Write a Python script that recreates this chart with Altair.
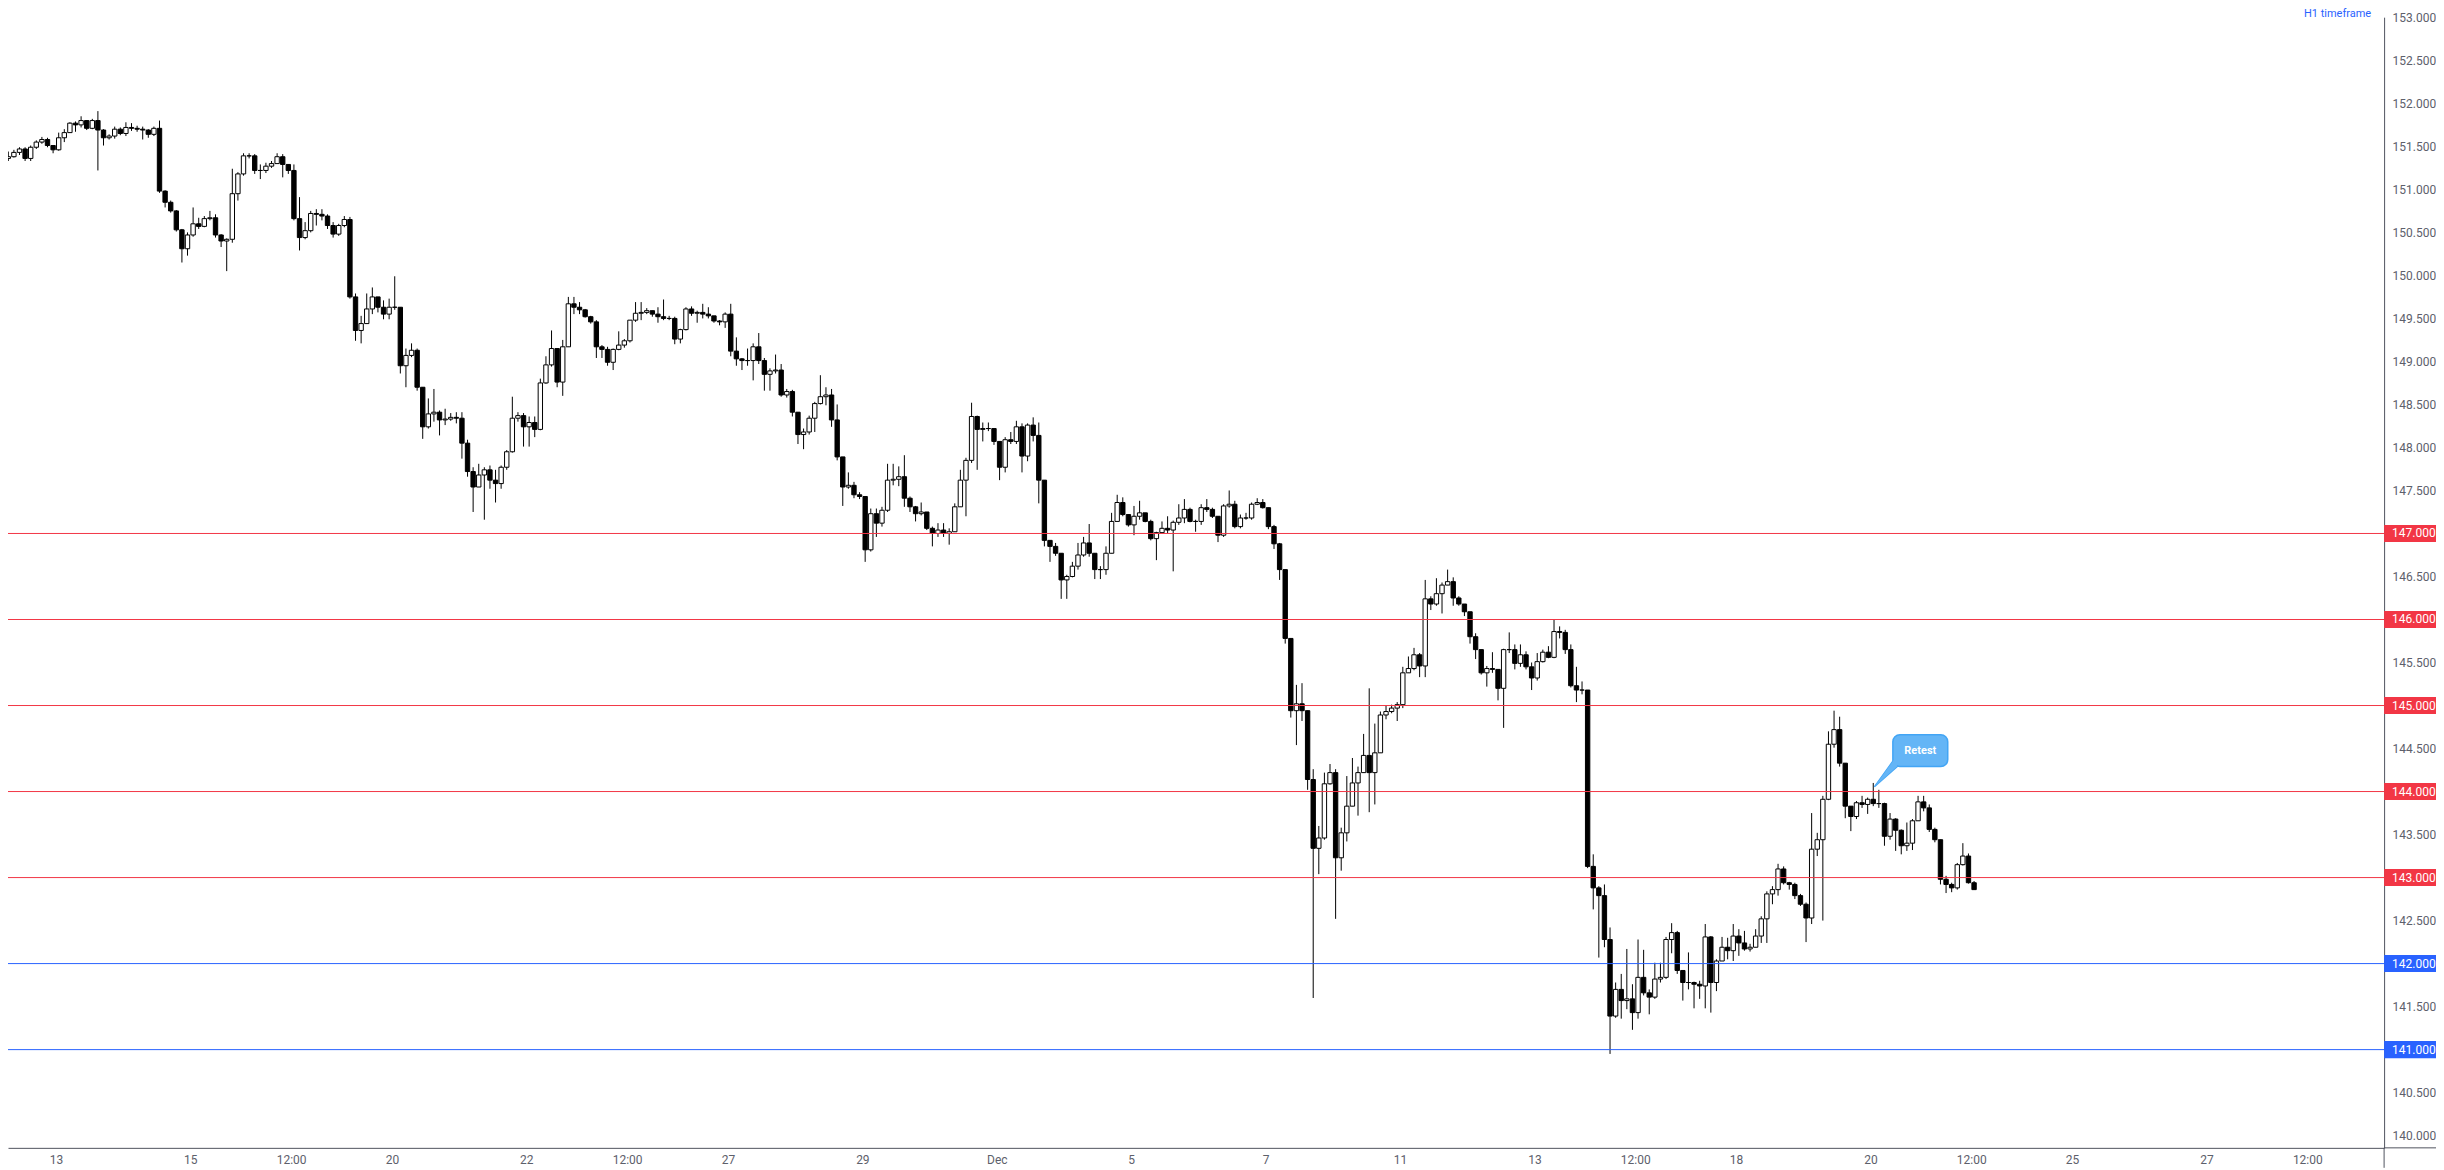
import altair as alt
import pandas as pd

# ---------------- data ----------------
# 2-hour candles; t = trading hours since Mon 13 Nov 00:00 (weekends removed)
T_START = -20
BAR_HOURS = 2
FIRST_OPEN = 151.29

CLOSE = [
    151.36, 151.38, 151.43, 151.47, 151.36, 151.49, 151.55, 151.58, 151.51, 151.46,
    151.60, 151.66, 151.77, 151.75, 151.80, 151.71, 151.80, 151.69, 151.60, 151.62,
    151.70, 151.65, 151.72, 151.71, 151.70, 151.69, 151.64, 151.71, 150.98, 150.85,
    150.75, 150.53, 150.31, 150.47, 150.60, 150.57, 150.66, 150.67, 150.47, 150.40,
    150.42, 150.95, 151.18, 151.39, 151.39, 151.22, 151.22, 151.27, 151.30, 151.38,
    151.29, 151.22, 150.66, 150.44, 150.52, 150.72, 150.71, 150.69, 150.58, 150.48,
    150.58, 150.65, 149.75, 149.36, 149.44, 149.61, 149.75, 149.63, 149.55, 149.63,
    149.63, 148.95, 149.07, 149.13, 148.70, 148.24, 148.39, 148.41, 148.32, 148.33,
    148.35, 148.34, 148.05, 147.72, 147.54, 147.68, 147.74, 147.62, 147.58, 147.77,
    147.95, 148.34, 148.37, 148.24, 148.29, 148.21, 148.75, 148.96, 149.15, 148.76,
    149.17, 149.67, 149.63, 149.60, 149.52, 149.46, 149.17, 149.14, 148.99, 149.14,
    149.19, 149.24, 149.48, 149.56, 149.57, 149.59, 149.55, 149.52, 149.50, 149.50,
    149.26, 149.37, 149.61, 149.56, 149.57, 149.55, 149.53, 149.47, 149.46, 149.55,
    149.12, 149.03, 149.01, 149.01, 149.17, 149.01, 148.85, 148.89, 148.90, 148.61,
    148.65, 148.41, 148.15, 148.18, 148.34, 148.51, 148.59, 148.61, 148.32, 147.89,
    147.54, 147.56, 147.45, 147.43, 146.81, 147.23, 147.12, 147.27, 147.62, 147.63,
    147.66, 147.41, 147.31, 147.23, 147.25, 147.06, 147.00, 147.04, 147.00, 147.02,
    147.31, 147.62, 147.85, 148.36, 148.21, 148.22, 148.22, 148.07, 147.77, 148.09,
    148.07, 148.24, 147.90, 148.26, 148.14, 147.62, 146.92, 146.85, 146.77, 146.46,
    146.50, 146.62, 146.75, 146.89, 146.77, 146.58, 146.58, 146.77, 147.14, 147.36,
    147.22, 147.10, 147.20, 147.24, 147.14, 146.94, 147.01, 147.06, 147.04, 147.13,
    147.18, 147.28, 147.14, 147.14, 147.30, 147.28, 147.20, 146.98, 147.32, 147.34,
    147.08, 147.18, 147.18, 147.34, 147.36, 147.30, 147.08, 146.88, 146.58, 145.78,
    144.94, 145.02, 144.94, 144.14, 143.34, 143.46, 144.09, 144.22, 143.23, 143.52,
    143.83, 144.10, 144.22, 144.42, 144.22, 144.45, 144.89, 144.93, 144.97, 145.01,
    145.38, 145.43, 145.59, 145.46, 146.24, 146.18, 146.30, 146.40, 146.44, 146.25,
    146.18, 146.09, 145.80, 145.65, 145.38, 145.43, 145.42, 145.20, 145.65, 145.65,
    145.49, 145.59, 145.45, 145.32, 145.51, 145.62, 145.56, 145.86, 145.85, 145.65,
    145.23, 145.18, 145.18, 143.13, 142.88, 142.79, 142.28, 141.39, 141.70, 141.57,
    141.59, 141.43, 141.84, 141.66, 141.61, 141.82, 141.84, 142.28, 142.36, 141.92,
    141.78, 141.78, 141.76, 141.74, 142.31, 141.78, 142.03, 142.19, 142.15, 142.32,
    142.24, 142.17, 142.19, 142.32, 142.52, 142.81, 142.86, 143.10, 142.94, 142.92,
    142.79, 142.69, 142.53, 143.33, 143.44, 143.91, 144.55, 144.72, 144.33, 143.83,
    143.71, 143.87, 143.85, 143.91, 143.86, 143.86, 143.48, 143.68, 143.55, 143.37,
    143.40, 143.66, 143.88, 143.81, 143.56, 143.44, 142.98, 142.92, 142.88, 143.15,
    143.25, 142.94, 142.86,
]
HIGH = [
    151.39, 151.44, 151.46, 151.49, 151.49, 151.51, 151.57, 151.61, 151.60, 151.51,
    151.66, 151.70, 151.78, 151.79, 151.85, 151.80, 151.82, 151.91, 151.70, 151.64,
    151.73, 151.72, 151.78, 151.77, 151.74, 151.73, 151.70, 151.73, 151.80, 150.99,
    150.87, 150.76, 150.54, 150.50, 150.79, 150.67, 150.69, 150.75, 150.71, 150.48,
    150.43, 151.24, 151.20, 151.42, 151.42, 151.41, 151.29, 151.31, 151.33, 151.42,
    151.41, 151.27, 151.29, 150.91, 150.62, 150.75, 150.77, 150.77, 150.71, 150.62,
    150.60, 150.69, 150.68, 149.79, 149.53, 149.79, 149.86, 149.71, 149.71, 149.73,
    149.99, 149.63, 149.15, 149.21, 149.15, 148.68, 148.57, 148.68, 148.43, 148.45,
    148.40, 148.41, 148.41, 148.09, 147.77, 147.81, 147.77, 147.79, 147.74, 147.79,
    147.97, 148.59, 148.41, 148.40, 148.36, 148.36, 148.80, 149.06, 149.36, 149.11,
    149.25, 149.75, 149.75, 149.69, 149.61, 149.53, 149.48, 149.19, 149.17, 149.15,
    149.35, 149.26, 149.48, 149.69, 149.69, 149.62, 149.58, 149.63, 149.72, 149.53,
    149.52, 149.38, 149.63, 149.64, 149.59, 149.67, 149.63, 149.52, 149.48, 149.57,
    149.67, 149.28, 149.04, 149.15, 149.21, 149.33, 149.04, 148.92, 149.08, 148.97,
    148.68, 148.67, 148.41, 148.22, 148.37, 148.53, 148.84, 148.70, 148.68, 148.50,
    147.87, 147.71, 147.60, 147.48, 147.43, 147.29, 147.29, 147.31, 147.81, 147.81,
    147.78, 147.91, 147.43, 147.32, 147.36, 147.25, 147.08, 147.12, 147.12, 147.06,
    147.35, 147.74, 147.88, 148.52, 148.37, 148.29, 148.29, 148.22, 148.03, 148.12,
    148.18, 148.31, 148.28, 148.28, 148.35, 148.29, 147.62, 146.89, 146.89, 146.77,
    146.52, 146.67, 146.89, 146.96, 147.11, 146.77, 146.62, 146.85, 147.24, 147.45,
    147.42, 147.22, 147.32, 147.38, 147.20, 147.16, 147.02, 147.14, 147.20, 147.15,
    147.34, 147.40, 147.30, 147.16, 147.34, 147.40, 147.30, 147.18, 147.34, 147.50,
    147.38, 147.22, 147.24, 147.36, 147.41, 147.40, 147.30, 147.10, 146.89, 146.54,
    145.72, 145.24, 145.26, 144.86, 144.26, 143.60, 144.22, 144.32, 144.26, 143.58,
    144.18, 144.39, 144.29, 144.67, 145.20, 144.79, 144.93, 145.00, 145.01, 145.04,
    145.45, 145.57, 145.67, 145.61, 146.46, 146.27, 146.48, 146.43, 146.58, 146.49,
    146.27, 146.18, 146.07, 145.84, 145.63, 145.46, 145.62, 145.42, 145.66, 145.85,
    145.71, 145.71, 145.63, 145.50, 145.61, 145.65, 145.69, 146.00, 145.92, 145.88,
    145.71, 145.45, 145.28, 145.18, 143.27, 142.90, 142.92, 142.42, 141.78, 141.88,
    142.17, 141.76, 142.28, 142.16, 141.70, 142.01, 142.01, 142.31, 142.47, 142.38,
    141.90, 142.13, 141.79, 141.80, 142.46, 142.32, 142.05, 142.31, 142.30, 142.46,
    142.40, 142.38, 142.23, 142.40, 142.55, 142.84, 142.90, 143.16, 143.13, 142.95,
    142.94, 142.81, 142.71, 143.75, 143.52, 143.95, 144.70, 144.94, 144.87, 144.31,
    143.83, 143.89, 143.95, 143.93, 144.10, 144.02, 143.87, 143.75, 143.69, 143.56,
    143.64, 143.68, 143.95, 143.95, 143.85, 143.58, 143.44, 143.02, 142.94, 143.17,
    143.40, 143.28, 142.96,
]
LOW = [
    151.25, 151.33, 151.37, 151.40, 151.33, 151.33, 151.47, 151.53, 151.49, 151.42,
    151.45, 151.55, 151.66, 151.67, 151.72, 151.69, 151.70, 151.22, 151.51, 151.58,
    151.59, 151.63, 151.62, 151.68, 151.67, 151.58, 151.60, 151.62, 150.96, 150.79,
    150.73, 150.51, 150.15, 150.23, 150.45, 150.54, 150.56, 150.64, 150.44, 150.33,
    150.05, 150.38, 150.87, 151.16, 151.36, 151.18, 151.12, 151.19, 151.25, 151.30,
    151.14, 151.18, 150.64, 150.29, 150.42, 150.50, 150.58, 150.64, 150.54, 150.44,
    150.46, 150.56, 149.73, 149.24, 149.21, 149.57, 149.55, 149.57, 149.49, 149.49,
    149.60, 148.86, 148.70, 149.05, 148.66, 148.10, 148.22, 148.30, 148.14, 148.26,
    148.31, 148.28, 147.87, 147.66, 147.25, 147.54, 147.16, 147.52, 147.36, 147.52,
    147.74, 147.94, 148.30, 148.01, 148.01, 148.12, 148.20, 148.74, 148.94, 148.70,
    148.60, 149.17, 149.55, 149.55, 149.51, 149.44, 149.04, 149.04, 148.95, 148.90,
    149.13, 149.16, 149.22, 149.46, 149.48, 149.55, 149.52, 149.45, 149.48, 149.48,
    149.20, 149.21, 149.36, 149.53, 149.45, 149.50, 149.50, 149.45, 149.42, 149.39,
    149.06, 148.95, 148.90, 148.95, 148.78, 148.97, 148.66, 148.66, 148.86, 148.59,
    148.58, 148.36, 148.04, 147.98, 148.15, 148.18, 148.50, 148.49, 148.24, 147.85,
    147.32, 147.52, 147.41, 147.40, 146.67, 146.79, 146.96, 147.08, 147.25, 147.56,
    147.55, 147.31, 147.25, 147.14, 147.21, 147.04, 146.85, 146.96, 146.96, 146.87,
    147.04, 147.39, 147.20, 147.82, 147.74, 148.07, 148.19, 148.03, 147.62, 147.71,
    148.04, 148.04, 147.71, 147.84, 148.07, 147.35, 146.85, 146.67, 146.74, 146.24,
    146.24, 146.49, 146.58, 146.73, 146.73, 146.47, 146.47, 146.52, 146.77, 147.14,
    147.20, 147.08, 146.98, 147.16, 147.13, 146.92, 146.69, 147.01, 147.00, 146.56,
    147.10, 147.12, 147.13, 147.02, 147.10, 147.25, 147.18, 146.90, 146.96, 147.30,
    147.06, 147.06, 147.16, 147.16, 147.33, 147.29, 147.05, 146.82, 146.46, 145.72,
    144.86, 144.54, 144.82, 144.02, 141.60, 143.04, 143.44, 144.08, 142.52, 143.08,
    143.42, 143.91, 143.72, 144.26, 143.76, 143.85, 144.49, 144.84, 144.91, 144.82,
    144.97, 145.41, 145.41, 145.33, 145.33, 146.11, 146.16, 146.07, 146.40, 146.16,
    146.16, 146.04, 145.72, 145.54, 145.36, 145.22, 145.38, 145.06, 144.74, 145.61,
    145.42, 145.45, 145.42, 145.18, 145.29, 145.50, 145.55, 145.55, 145.78, 145.60,
    145.21, 145.04, 145.13, 143.11, 142.63, 142.07, 142.19, 140.95, 141.37, 141.36,
    141.47, 141.23, 141.36, 141.63, 141.41, 141.59, 141.78, 141.82, 142.12, 141.88,
    141.57, 141.70, 141.48, 141.59, 141.48, 141.43, 141.68, 142.03, 142.05, 142.03,
    142.09, 142.15, 142.14, 142.19, 142.24, 142.24, 142.69, 142.79, 142.92, 142.86,
    142.75, 142.67, 142.25, 142.46, 143.25, 142.50, 143.90, 144.51, 144.29, 143.69,
    143.54, 143.68, 143.81, 143.74, 143.83, 143.81, 143.37, 143.44, 143.31, 143.27,
    143.31, 143.32, 143.66, 143.77, 143.53, 143.41, 142.92, 142.82, 142.83, 142.86,
    143.14, 142.93, 142.86,
]

# time-axis ticks (trading hours) and their labels
TICK_T = [0, 48, 84, 120, 168, 204, 240, 288, 336, 384, 432, 480, 528, 564, 600,
          648, 684, 720, 768, 804]
TICK_LABELS = ["13", "15", "12:00", "20", "22", "12:00", "27", "29", "Dec", "5",
               "7", "11", "13", "12:00", "18", "20", "12:00", "25", "27", "12:00"]

# plain grey price labels (the marked levels get coloured boxes instead)
Y_LABEL_VALUES = [140.0, 140.5, 141.5, 142.5, 143.5, 144.5, 145.5, 146.5, 147.5,
                  148.0, 148.5, 149.0, 149.5, 150.0, 150.5, 151.0, 151.5, 152.0,
                  152.5, 153.0]

LEVELS = [147, 146, 145, 144, 143, 142, 141]
LEVEL_COLORS = ["#f23645", "#f23645", "#f23645", "#f23645", "#f23645",
                "#2962ff", "#2962ff"]

CALLOUT_TEXT = "Retest"
CALLOUT_BOX_T = [656.0, 675.6]
CALLOUT_BOX_P = [144.29, 144.66]
CALLOUT_TAIL_T = [649.4, 657.5]
CALLOUT_TAIL_TOP = [144.055, 144.42]
CALLOUT_TAIL_BOT = [144.055, 144.29]

TIMEFRAME_TEXT = "H1 timeframe"

# ---------------- layout / style ----------------
W, H = 2381, 1133
X_DOMAIN = [-17.106, 831.43]
Y_DOMAIN = [139.858, 153.002]
AXIS_LINE = "#50535e"
LABEL_COLOR = "#5d606b"
FONT = "Roboto"
BUBBLE_FILL = "#64b5f6"
BUBBLE_STROKE = "#42a5f5"

# ---------------- tables ----------------
n = len(CLOSE)
candles = pd.DataFrame({
    "t": [T_START + BAR_HOURS * i for i in range(n)],
    "open": [FIRST_OPEN] + CLOSE[:-1],
    "close": CLOSE,
    "high": HIGH,
    "low": LOW,
})
candles["mid"] = candles["t"] + BAR_HOURS / 2
candles["b0"] = candles["t"] + 0.22
candles["b1"] = candles["t"] + 1.78
candles["hi"] = candles[["high", "open", "close"]].max(axis=1)
candles["lo"] = candles[["low", "open", "close"]].min(axis=1)

levels = pd.DataFrame({"level": LEVELS, "color": LEVEL_COLORS})
levels["label"] = [f"{v:.3f}" for v in LEVELS]
levels["top"] = levels["level"] + 0.099
levels["bot"] = levels["level"] - 0.099

bubble_df = pd.DataFrame({
    "t1": [CALLOUT_BOX_T[0]], "t2": [CALLOUT_BOX_T[1]],
    "p1": [CALLOUT_BOX_P[0]], "p2": [CALLOUT_BOX_P[1]],
    "tc": [sum(CALLOUT_BOX_T) / 2], "pc": [sum(CALLOUT_BOX_P) / 2],
    "text": [CALLOUT_TEXT],
})
tail_df = pd.DataFrame({"t": CALLOUT_TAIL_T, "top": CALLOUT_TAIL_TOP,
                        "bot": CALLOUT_TAIL_BOT})
one = pd.DataFrame({"text": [TIMEFRAME_TEXT]})

xs = alt.Scale(domain=X_DOMAIN, nice=False, zero=False)
ys = alt.Scale(domain=Y_DOMAIN, nice=False, zero=False)

label_expr = ("[" + ",".join(f"'{s}'" for s in TICK_LABELS) + "][indexof(["
              + ",".join(str(v) for v in TICK_T) + "], datum.value)]")

xaxis = alt.Axis(values=TICK_T, labelExpr=label_expr, title=None, grid=False,
                 ticks=False, domainColor=AXIS_LINE, domainWidth=1,
                 labelColor=LABEL_COLOR, labelFont=FONT, labelFontSize=12,
                 labelPadding=7, labelOverlap=False, labelFlush=False)
yaxis = alt.Axis(orient="right", values=Y_LABEL_VALUES, format=".3f", title=None,
                 grid=False, ticks=False, domainColor=AXIS_LINE, domainWidth=1,
                 labelColor=LABEL_COLOR, labelFont=FONT, labelFontSize=12,
                 labelPadding=8, labelAlign="left", labelBaseline="middle",
                 labelOverlap=False, labelFlush=False)


def X(field):
    return alt.X(field, scale=xs, axis=xaxis)


def Y(field):
    return alt.Y(field, scale=ys, axis=yaxis)


base = alt.Chart(candles)
wicks = base.mark_rule(color="black", strokeWidth=1, clip=True).encode(
    x=X("mid:Q"), y=Y("lo:Q"), y2="hi",
)
bodies = base.mark_rect(stroke="black", strokeWidth=1, clip=True).encode(
    x=X("b0:Q"), x2="b1",
    y=Y("open:Q"), y2="close",
    fill=alt.condition("datum.close >= datum.open", alt.value("white"),
                       alt.value("black")),
)

level_rules = alt.Chart(levels).mark_rule(strokeWidth=1).encode(
    y=Y("level:Q"),
    color=alt.Color("color:N", scale=None),
)
level_boxes = alt.Chart(levels).mark_rect().encode(
    x=alt.value(W), x2=alt.value(W + 52),
    y=Y("top:Q"), y2="bot",
    color=alt.Color("color:N", scale=None),
)
level_text = alt.Chart(levels).mark_text(
    align="left", baseline="middle", font=FONT, fontSize=12, color="white"
).encode(
    x=alt.value(W + 8), y=Y("level:Q"), text="label:N"
)

tail = alt.Chart(tail_df).mark_area(
    fill=BUBBLE_FILL, stroke=BUBBLE_STROKE, strokeWidth=1.5
).encode(x=X("t:Q"), y=Y("top:Q"), y2="bot")
bubble = alt.Chart(bubble_df).mark_rect(
    cornerRadius=7, fill=BUBBLE_FILL, stroke=BUBBLE_STROKE, strokeWidth=1.5
).encode(x=X("t1:Q"), x2="t2", y=Y("p1:Q"), y2="p2")
tail_cover = alt.Chart(tail_df).mark_area(fill=BUBBLE_FILL, strokeWidth=0).encode(
    x=X("t:Q"), y=Y("top:Q"), y2="bot"
)
bubble_text = alt.Chart(bubble_df).mark_text(
    font=FONT, fontSize=11, fontWeight="bold", color="white",
    align="center", baseline="middle"
).encode(x=X("tc:Q"), y=Y("pc:Q"), text="text:N")

timeframe = alt.Chart(one).mark_text(
    align="right", baseline="alphabetic", font=FONT, fontSize=11, color="#2962ff"
).encode(x=alt.value(W - 13), y=alt.value(-0.5), text="text:N")

bottom_ext = alt.Chart(one).mark_rule(color=AXIS_LINE, strokeWidth=1).encode(
    x=alt.value(W), x2=alt.value(W + 52), y=alt.value(H)
)
right_ext = alt.Chart(one).mark_rule(color=AXIS_LINE, strokeWidth=1).encode(
    x=alt.value(W), y=alt.value(H), y2=alt.value(H + 20)
)

chart = alt.layer(
    wicks, bodies, level_rules, tail, bubble, tail_cover, bubble_text,
    level_boxes, level_text, timeframe, bottom_ext, right_ext,
).properties(
    width=W, height=H,
    padding={"left": 0, "top": 8, "right": 52, "bottom": 20},
    autosize=alt.AutoSizeParams(type="none"),
    background="white",
).configure_view(stroke=None)

chart.save("out.html", embed_options={"renderer": "svg", "actions": False})
